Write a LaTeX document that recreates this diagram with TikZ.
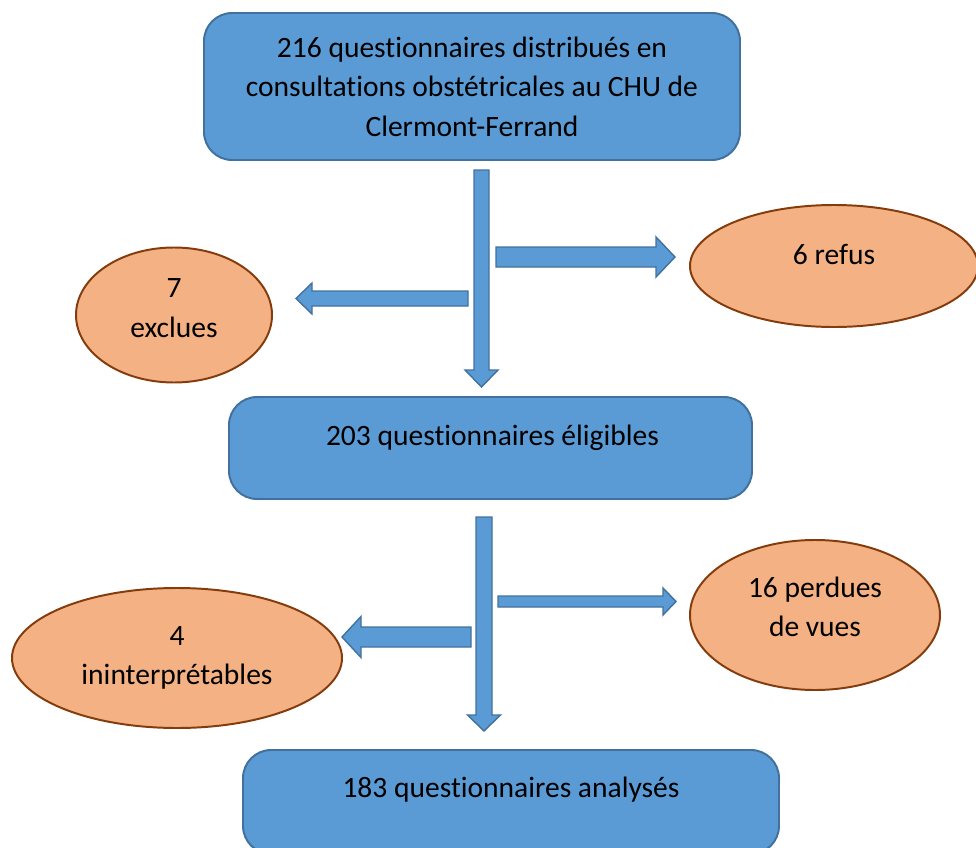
\documentclass[tikz,border=0pt]{standalone}
\usepackage{fontspec}
\setmainfont{Carlito}[RawFeature={-liga;-clig;-calt;-dlig}]
\usepackage{tikz}
\usetikzlibrary{shapes.geometric}

\definecolor{bleu}{HTML}{5B9BD5}
\definecolor{bleufonce}{HTML}{41719C}
\definecolor{saumon}{HTML}{F4B183}
\definecolor{brun}{HTML}{843C0C}

% fleche pleine : depart, angle, longueur, demi-tige, demi-tete, longueur tete
\newcommand{\flechebloc}[6]{%
  \begin{scope}[shift={#1},rotate=#2]
    \draw[fleche] (0,-#4) -- ({#3-#6},-#4) -- ({#3-#6},-#5) -- (#3,0)
      -- ({#3-#6},#5) -- ({#3-#6},#4) -- (0,#4) -- cycle;
  \end{scope}}

\tikzset{
  boite/.style={rectangle,rounded corners=20,draw=bleufonce,line width=1.4pt,
    fill=bleu,inner sep=0pt,align=center},
  bulle/.style={ellipse,draw=brun,line width=1.4pt,fill=saumon,
    inner sep=0pt,align=center},
  fleche/.style={draw=bleufonce,line width=1pt,fill=bleu}
}

\begin{document}
\begin{tikzpicture}[x=0.025cm,y=-0.025cm,
  font=\fontsize{21}{28}\selectfont]
\useasboundingbox (0,0) rectangle (976,848);

\node[boite,minimum width=536*0.025cm,minimum height=147*0.025cm] (q216) at (472,86.5)
  {216 questionnaires distribués en\\consultations obstétricales au CHU de\\Clermont-Ferrand};
\node[boite,minimum width=523*0.025cm,minimum height=102*0.025cm,text depth=0.62cm] (q203) at (490.5,448)
  {\hspace*{0.1cm}203 questionnaires éligibles};
\node[boite,minimum width=536*0.025cm,minimum height=104*0.025cm,text depth=0.72cm] (q183) at (511,802)
  {183 questionnaires analysés};

\node[bulle,minimum width=288*0.025cm,minimum height=122*0.025cm,text depth=0.6cm] (refus) at (834,266) {6 refus};
\node[bulle,minimum width=196*0.025cm,minimum height=135*0.025cm,text depth=0.35cm] (exclues) at (174,315) {7\\exclues};
\node[bulle,minimum width=250*0.025cm,minimum height=150*0.025cm,text depth=0.4cm] (perdues) at (815,615) {16 perdues\\de vues};
\node[bulle,minimum width=330*0.025cm,minimum height=140*0.025cm] (ininterp) at (177,658) {4\\ininterprétables};

%\flechebloc{depart}{angle}{longueur}{demi-tige}{demi-tete}{tete}
\flechebloc{(481.5,170)}{-90}{217}{7.5}{16.5}{17}
\flechebloc{(496,257)}{0}{179}{10}{20}{19}
\flechebloc{(468,298.5)}{180}{172}{7.5}{15.5}{16}
\flechebloc{(484,517)}{-90}{214}{8}{16.5}{16}
\flechebloc{(498,601.5)}{0}{178}{5.5}{13.5}{13}
\flechebloc{(471,637)}{180}{129}{10}{20.5}{19}
\end{tikzpicture}
\end{document}
